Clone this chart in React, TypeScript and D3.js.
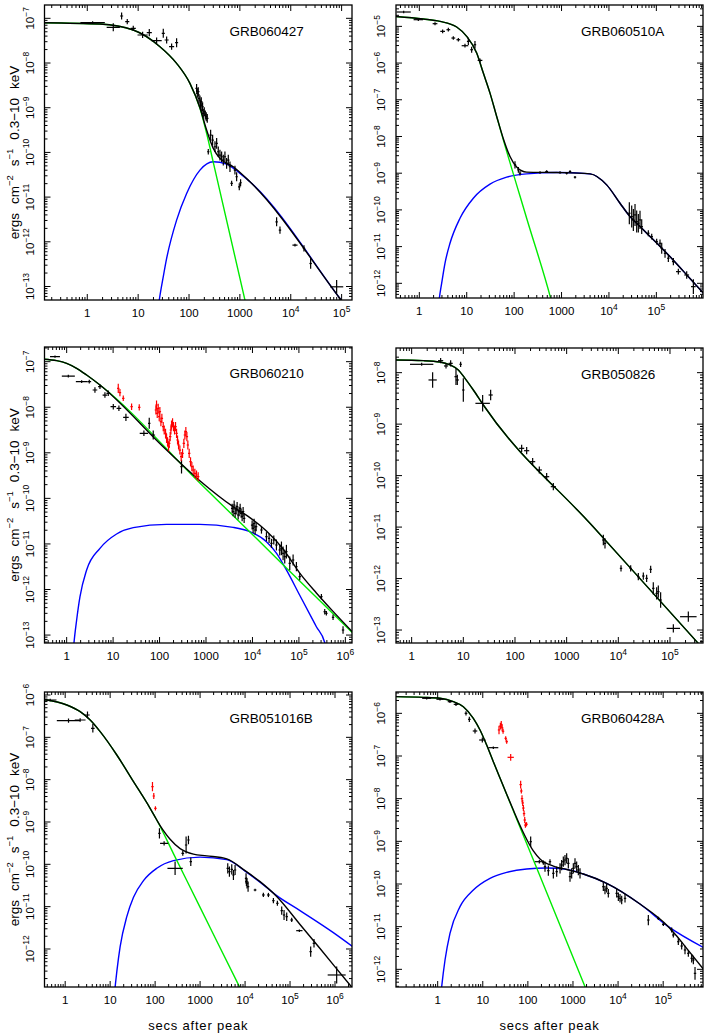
import React from 'react';
import * as d3 from 'd3';

// All values are log10(seconds after peak), log10(flux in erg cm^-2 s^-1)
type Pt = [number, number];
// observation: [log10 t, log10 flux, ±err in log10 t, ±err in log10 flux]
type Obs = [number, number, number, number];

// ---------------- GRB060427 ----------------
const g060427Total: Pt[] = [[-0.9,-7.097],[0.249,-7.127],[0.904,-7.261],[1.429,-7.634],[1.756,-8.007],[2.018,-8.455],[2.215,-9.0],[2.346,-9.5],[2.477,-9.91],[2.608,-10.134],[2.87,-10.321],[3.198,-10.657],[4.967,-13.269],[5.25,-13.7]];
const g060427Prompt: Pt[] = [[-0.9,-7.097],[0.249,-7.127],[0.904,-7.261],[1.429,-7.634],[1.756,-8.007],[2.018,-8.455],[2.215,-9.015],[2.346,-9.575],[2.477,-10.224],[3.1,-13.306],[3.2,-13.8]];
const g060427Afterglow: Pt[] = [[1.38,-13.6],[1.415,-13.306],[1.494,-12.78],[1.56,-12.373],[1.756,-11.515],[1.953,-10.918],[2.215,-10.396],[2.477,-10.209],[2.739,-10.261],[3.001,-10.47],[3.198,-10.657],[4.967,-13.269],[5.25,-13.7]];
const g060427Obs: Obs[] = [
  [0.105,-7.097,0.24,0.03],[0.511,-7.201,0.13,0.09],[0.675,-6.948,0.03,0.08],[0.786,-7.075,0.04,0.06],
  [0.904,-7.224,0.05,0.06],[1.088,-7.373,0.1,0.07],[1.219,-7.321,0.05,0.08],[1.363,-7.5,0.1,0.07],
  [1.494,-7.336,0.03,0.1],[1.56,-7.485,0.04,0.08],[1.658,-7.634,0.05,0.07],[1.756,-7.545,0.03,0.1],
  [2.149,-8.567,0.01,0.1],[2.163,-8.679,0.01,0.1],[2.182,-8.642,0.01,0.1],[2.195,-8.791,0.01,0.1],
  [2.215,-8.828,0.01,0.1],[2.228,-8.94,0.01,0.1],[2.241,-8.866,0.01,0.1],[2.254,-9.052,0.01,0.1],
  [2.267,-8.978,0.01,0.1],[2.28,-9.127,0.01,0.1],[2.3,-9.09,0.01,0.1],[2.32,-9.164,0.01,0.1],
  [2.339,-9.201,0.01,0.1],[2.359,-9.239,0.01,0.1],[2.379,-9.985,0.01,0.06],
  [2.425,-9.612,0.012,0.12],[2.464,-9.724,0.012,0.12],[2.51,-9.873,0.012,0.12],[2.543,-9.799,0.012,0.12],
  [2.575,-9.985,0.012,0.12],[2.608,-10.06,0.012,0.12],[2.641,-10.097,0.012,0.12],[2.674,-10.172,0.012,0.12],
  [2.706,-10.097,0.012,0.12],[2.739,-10.246,0.012,0.12],[2.772,-10.172,0.012,0.12],[2.805,-10.321,0.012,0.12],
  [2.838,-10.694,0.01,0.06],[2.903,-10.396,0.01,0.1],[2.936,-10.545,0.01,0.1],[2.988,-10.769,0.01,0.08],
  [3.014,-10.679,0.01,0.08],[3.722,-11.552,0.01,0.1],[3.788,-11.739,0.02,0.08],[4.083,-12.075,0.05,0.03],
  [4.26,-12.149,0.01,0.07],[4.391,-12.485,0.02,0.12],[4.902,-13.007,0.13,0.15]
];

// ---------------- GRB060510A ----------------
const g060510aTotal: Pt[] = [[-0.55,-4.727],[0.084,-4.8],[0.436,-4.864],[0.788,-5.018],[0.999,-5.273],[1.21,-5.727],[1.35,-6.273],[1.491,-6.818],[1.632,-7.455],[1.772,-8.06],[1.913,-8.545],[2.053,-8.83],[2.264,-8.97],[2.897,-8.982],[3.601,-9.018],[3.952,-9.318],[4.233,-9.818],[4.444,-10.182],[4.655,-10.455],[5.007,-10.9],[5.359,-11.37],[5.71,-11.87],[6.05,-12.35]];
const g060510aPrompt: Pt[] = [[-0.55,-4.727],[0.084,-4.8],[0.436,-4.864],[0.788,-5.018],[0.999,-5.273],[1.21,-5.727],[1.35,-6.273],[1.491,-6.818],[1.632,-7.455],[1.772,-8.091],[2.264,-10.227],[2.771,-12.409],[2.85,-12.8]];
const g060510aAfterglow: Pt[] = [[0.39,-12.8],[0.422,-12.409],[0.471,-12.0],[0.541,-11.455],[0.647,-10.909],[0.858,-10.227],[1.139,-9.682],[1.491,-9.3],[1.842,-9.109],[2.264,-9.018],[2.897,-8.982],[3.601,-9.018],[3.952,-9.318],[4.233,-9.818],[4.444,-10.182],[4.655,-10.455],[5.007,-10.9],[5.359,-11.37],[5.71,-11.87],[6.05,-12.35]];
const g060510aObs: Obs[] = [
  [-0.33,-4.609,0.15,0.005],[-0.021,-4.818,0.1,0.02],[0.331,-4.927,0.05,0.04],[0.492,-5.136,0.05,0.05],
  [0.612,-5.091,0.04,0.05],[0.717,-5.318,0.04,0.05],[0.823,-5.364,0.04,0.05],[0.963,-5.527,0.07,0.05],
  [1.034,-5.409,0.03,0.1],[1.104,-5.636,0.03,0.08],[1.174,-5.5,0.02,0.1],[1.28,-5.927,0.05,0.05],
  [2.018,-8.773,0.02,0.1],[2.089,-8.909,0.02,0.08],[2.124,-9.0,0.02,0.06],
  [2.546,-8.982,0.03,0.02],[2.686,-8.955,0.03,0.02],[2.968,-8.982,0.03,0.02],[3.108,-9.0,0.02,0.03],
  [3.179,-8.955,0.02,0.03],[3.284,-9.109,0.02,0.03],
  [4.43,-10.091,0.005,0.3],[4.48,-10.182,0.005,0.3],[4.515,-10.273,0.005,0.3],[4.55,-10.136,0.005,0.3],
  [4.585,-10.318,0.005,0.3],[4.62,-10.364,0.005,0.25],[4.655,-10.273,0.005,0.25],[4.691,-10.455,0.005,0.2],
  [4.831,-10.636,0.02,0.08],[4.902,-10.727,0.02,0.08],[5.007,-10.864,0.02,0.08],[5.077,-10.909,0.02,0.1],
  [5.113,-11.045,0.01,0.15],[5.183,-11.182,0.02,0.12],[5.253,-11.318,0.02,0.1],[5.359,-11.409,0.03,0.1],
  [5.464,-11.682,0.05,0.08],[5.64,-11.773,0.05,0.1],[5.781,-12.091,0.05,0.2]
];

// ---------------- GRB060210 ----------------
const g060210Total: Pt[] = [[-0.5,-6.945],[-0.215,-6.978],[0,-7.037],[0.215,-7.146],[0.43,-7.293],[0.717,-7.512],[2.151,-8.94],[2.867,-9.612],[3.584,-10.182],[3.907,-10.394],[4.301,-10.716],[4.659,-11.11],[5.018,-11.64],[5.376,-12.075],[5.735,-12.48],[6.2,-12.98]];
const g060210Prompt: Pt[] = [[-0.5,-6.945],[-0.215,-6.978],[0,-7.037],[0.215,-7.146],[0.43,-7.293],[0.717,-7.512],[2.867,-9.662],[4.659,-11.454],[6.2,-12.995]];
const g060210Afterglow: Pt[] = [[0.13,-13.5],[0.158,-13.167],[0.215,-12.669],[0.287,-12.157],[0.43,-11.572],[0.717,-11.097],[1.075,-10.782],[1.434,-10.643],[2.151,-10.57],[2.867,-10.57],[3.584,-10.636],[3.943,-10.731],[4.301,-10.95],[4.516,-11.2],[4.731,-11.57],[5.018,-12.126],[5.376,-12.817],[5.556,-13.164],[5.62,-13.5]];
const g060210Obs: Obs[] = [
  [-0.251,-6.89,0.107,0.005],[0.036,-7.315,0.14,0.03],[0.323,-7.439,0.125,0.03],[0.487,-7.439,0.04,0.04],
  [0.609,-7.622,0.05,0.06],[0.717,-7.549,0.04,0.05],[0.824,-7.732,0.05,0.06],[0.896,-7.695,0.04,0.06],
  [1.004,-7.988,0.06,0.06],[1.125,-8.024,0.05,0.06],[1.276,-8.222,0.06,0.08],[1.663,-8.573,0.09,0.06],
  [1.778,-8.353,0.01,0.12],[1.864,-8.609,0.04,0.1],[2.473,-9.304,0.01,0.15],
  [3.563,-10.219,0.01,0.1],[3.584,-10.292,0.01,0.1],[3.606,-10.146,0.01,0.1],[3.627,-10.328,0.01,0.1],
  [3.649,-10.255,0.01,0.1],[3.67,-10.182,0.01,0.1],[3.692,-10.365,0.01,0.1],[3.713,-10.292,0.01,0.1],
  [3.735,-10.219,0.01,0.1],[3.756,-10.328,0.01,0.1],[3.778,-10.402,0.01,0.1],[3.799,-10.292,0.01,0.1],
  [3.821,-10.438,0.01,0.1],
  [3.993,-10.585,0.01,0.1],[4.014,-10.658,0.01,0.1],[4.036,-10.548,0.01,0.1],[4.057,-10.694,0.01,0.1],
  [4.079,-10.621,0.01,0.1],[4.194,-10.694,0.01,0.08],[4.301,-10.841,0.01,0.1],[4.358,-10.877,0.01,0.1],
  [4.409,-10.987,0.01,0.1],[4.459,-10.914,0.01,0.1],[4.516,-11.023,0.01,0.12],[4.588,-11.133,0.01,0.12],
  [4.624,-11.097,0.01,0.15],[4.659,-11.206,0.01,0.15],[4.695,-11.279,0.01,0.15],[4.731,-11.17,0.01,0.15],
  [4.803,-11.426,0.01,0.15],[4.875,-11.353,0.01,0.12],[4.946,-11.499,0.01,0.1],[5.018,-11.718,0.02,0.08],
  [5.484,-12.157,0.02,0.06],[5.556,-12.487,0.02,0.06],[5.591,-12.523,0.02,0.05],[5.735,-12.611,0.02,0.06],
  [5.95,-12.889,0.01,0.08]
];
const g060210Flares: Obs[] = [
  [1.111,-7.585,0.02,0.1],[1.147,-7.68,0.02,0.08],[1.219,-7.805,0.02,0.06],[1.398,-7.988,0.015,0.07],[1.563,-8.002,0.01,0.07],
  [1.921,-8.061,0.008,0.1],[1.935,-7.951,0.008,0.1],[1.95,-8.134,0.008,0.1],[1.971,-8.024,0.008,0.1],
  [1.993,-8.207,0.008,0.1],[2.007,-8.097,0.008,0.1],[2.029,-8.317,0.008,0.1],[2.05,-8.244,0.008,0.1],
  [2.079,-8.426,0.008,0.1],[2.1,-8.5,0.008,0.1],[2.129,-8.573,0.008,0.1],[2.151,-8.683,0.008,0.1],
  [2.172,-8.756,0.008,0.1],[2.194,-8.865,0.008,0.1],[2.208,-8.792,0.008,0.1],[2.229,-8.646,0.008,0.1],
  [2.244,-8.5,0.008,0.1],[2.258,-8.39,0.008,0.1],[2.28,-8.339,0.008,0.1],[2.301,-8.426,0.008,0.1],
  [2.323,-8.5,0.008,0.1],[2.344,-8.426,0.008,0.1],[2.366,-8.573,0.008,0.1],[2.387,-8.719,0.008,0.1],
  [2.409,-8.829,0.008,0.1],[2.437,-8.939,0.008,0.1],[2.466,-9.085,0.008,0.1],[2.495,-9.012,0.008,0.1],
  [2.523,-8.792,0.008,0.1],[2.545,-8.609,0.008,0.1],[2.566,-8.536,0.008,0.1],[2.588,-8.646,0.008,0.1],
  [2.609,-8.829,0.008,0.1],[2.638,-9.012,0.008,0.1],[2.667,-9.195,0.008,0.1],[2.695,-9.304,0.008,0.1],
  [2.724,-9.377,0.008,0.1],[2.76,-9.451,0.008,0.1],[2.796,-9.487,0.008,0.1],[2.832,-9.524,0.008,0.1]
];

// ---------------- GRB050826 ----------------
const g050826Total: Pt[] = [[-0.35,-7.754],[0.226,-7.767],[0.548,-7.793],[0.742,-7.851],[0.903,-7.948],[1.032,-8.11],[1.194,-8.337],[1.387,-8.628],[3.5,-10.98],[5.548,-13.259],[5.7,-13.43]];
const g050826Obs: Obs[] = [
  [0.194,-7.838,0.226,0.03],[0.406,-8.142,0.08,0.15],[0.561,-7.767,0.05,0.05],[0.665,-7.87,0.04,0.05],
  [0.755,-7.819,0.04,0.06],[0.858,-8.078,0.03,0.16],[0.884,-8.142,0.03,0.1],[0.948,-7.838,0.02,0.05],
  [1.0,-8.337,0.02,0.23],[1.374,-8.596,0.14,0.16],[1.529,-8.434,0.04,0.1],
  [2.129,-9.47,0.05,0.07],[2.226,-9.516,0.05,0.07],[2.342,-9.729,0.05,0.07],[2.471,-9.891,0.05,0.07],
  [2.613,-10.021,0.05,0.07],[2.742,-10.215,0.05,0.07],
  [3.71,-11.251,0.02,0.1],[3.742,-11.316,0.02,0.1],[4.052,-11.802,0.02,0.06],[4.239,-11.802,0.02,0.06],
  [4.387,-11.964,0.02,0.07],[4.484,-11.951,0.02,0.07],[4.548,-11.996,0.02,0.07],[4.626,-11.821,0.01,0.07],
  [4.677,-12.19,0.01,0.12],[4.742,-12.288,0.01,0.12],[4.774,-12.255,0.01,0.12],[4.819,-12.417,0.01,0.15],
  [5.065,-12.968,0.13,0.08],[5.355,-12.741,0.16,0.1]
];

// ---------------- GRB051016B ----------------
const g051016bTotal: Pt[] = [[-0.5,-6.102],[0.037,-6.236],[0.333,-6.394],[0.556,-6.591],[0.778,-6.866],[1.148,-7.417],[1.519,-8.047],[1.889,-8.677],[2.037,-8.953],[2.185,-9.205],[2.333,-9.409],[2.556,-9.63],[2.852,-9.76],[3.148,-9.8],[3.593,-9.87],[4.0,-10.15],[4.333,-10.409],[4.704,-10.76],[5.222,-11.42],[5.667,-11.99],[6.333,-12.85],[6.45,-13.0]];
const g051016bPrompt: Pt[] = [[-0.5,-6.102],[0.037,-6.236],[0.333,-6.394],[0.556,-6.591],[0.778,-6.866],[1.148,-7.417],[1.519,-8.047],[1.889,-8.677],[2.037,-8.953],[2.407,-9.746],[3.0,-11.017],[3.874,-12.89],[3.95,-13.05]];
const g051016bAfterglow: Pt[] = [[1.09,-13.1],[1.111,-12.89],[1.148,-12.535],[1.222,-11.945],[1.37,-11.236],[1.519,-10.78],[1.741,-10.386],[2.037,-10.094],[2.407,-9.913],[3.0,-9.83],[3.593,-9.89],[4.0,-10.16],[4.333,-10.42],[4.704,-10.74],[5.222,-11.094],[5.963,-11.614],[6.45,-11.99]];
const g051016bObs: Obs[] = [
  [-0.333,-6.118,0.14,0.005],[0.074,-6.606,0.26,0.05],[0.333,-6.591,0.12,0.04],[0.496,-6.472,0.05,0.08],
  [0.615,-6.787,0.04,0.1],[2.096,-9.268,0.01,0.12],[2.2,-9.504,0.09,0.05],[2.444,-10.094,0.17,0.16],
  [2.615,-9.74,0.03,0.06],[2.689,-9.543,0.01,0.2],[2.741,-9.425,0.01,0.1],[2.793,-9.937,0.02,0.1],
  [3.615,-10.094,0.01,0.12],[3.652,-10.173,0.01,0.12],[3.704,-10.118,0.01,0.12],[3.741,-10.252,0.01,0.12],
  [3.778,-10.134,0.01,0.12],[4.022,-10.331,0.01,0.12],[4.03,-10.41,0.01,0.1],[4.044,-10.449,0.01,0.12],
  [4.067,-10.528,0.01,0.12],[4.222,-10.606,0.03,0.03],[4.407,-10.724,0.03,0.05],[4.519,-10.724,0.03,0.05],
  [4.63,-10.858,0.02,0.06],[4.719,-10.921,0.02,0.06],[4.815,-11.094,0.02,0.1],[4.867,-11.197,0.02,0.12],
  [4.926,-11.236,0.02,0.1],[5.037,-11.315,0.03,0.05],[5.207,-11.567,0.07,0.03],[5.459,-12.063,0.02,0.12],
  [5.533,-11.866,0.03,0.1],[6.037,-12.614,0.2,0.2]
];
const g051016bFlares: Obs[] = [[1.941,-8.165,0.005,0.11],[1.97,-8.386,0.01,0.07],[2.007,-8.677,0.01,0.05]];

// ---------------- GRB060428A ----------------
const g060428aTotal: Pt[] = [[-0.95,-5.609],[-0.318,-5.625],[0.052,-5.648],[0.347,-5.727],[0.569,-5.844],[0.791,-6.117],[0.939,-6.391],[1.086,-6.742],[1.234,-7.133],[1.382,-7.515],[1.53,-7.894],[1.678,-8.268],[1.826,-8.628],[1.936,-8.875],[2.121,-9.224],[2.269,-9.413],[2.565,-9.58],[2.86,-9.66],[3.23,-9.766],[3.747,-9.984],[4.486,-10.469],[5.115,-11.0],[5.3,-11.22],[5.521,-11.508],[5.95,-12.07]];
const g060428aPrompt: Pt[] = [[-0.95,-5.609],[-0.318,-5.625],[0.052,-5.648],[0.347,-5.727],[0.569,-5.844],[0.791,-6.117],[0.939,-6.391],[1.086,-6.742],[1.234,-7.133],[2.25,-9.768],[3.267,-12.406],[3.35,-12.62]];
const g060428aAfterglow: Pt[] = [[0.07,-12.6],[0.089,-12.406],[0.163,-11.781],[0.273,-11.156],[0.495,-10.531],[0.791,-10.141],[1.16,-9.867],[1.53,-9.727],[1.973,-9.648],[2.417,-9.625],[2.86,-9.656],[3.23,-9.766],[3.747,-9.984],[4.486,-10.469],[5.115,-11.0],[5.95,-11.52]];
const g060428aObs: Obs[] = [
  [-0.244,-5.648,0.1,0.02],[0.052,-5.67,0.08,0.02],[0.273,-5.727,0.05,0.03],[0.406,-5.789,0.05,0.04],
  [0.628,-6.0,0.03,0.05],[0.702,-6.141,0.03,0.06],[0.828,-6.414,0.05,0.06],[0.99,-6.625,0.07,0.06],
  [1.234,-6.805,0.11,0.02],[2.062,-9.008,0.01,0.12],[2.254,-9.477,0.1,0.04],[2.343,-9.5,0.03,0.05],
  [2.49,-9.477,0.02,0.06],
  [2.38,-9.594,0.01,0.12],[2.454,-9.688,0.01,0.12],[2.565,-9.75,0.01,0.12],[2.639,-9.711,0.01,0.12],
  [2.713,-9.633,0.01,0.12],[2.749,-9.555,0.01,0.12],[2.786,-9.477,0.01,0.12],[2.823,-9.438,0.01,0.12],
  [2.86,-9.398,0.01,0.12],[2.897,-9.516,0.01,0.12],[2.934,-9.828,0.01,0.12],[2.971,-9.75,0.01,0.12],
  [3.008,-9.633,0.01,0.12],[3.045,-9.516,0.01,0.12],[3.082,-9.594,0.01,0.12],[3.119,-9.672,0.01,0.12],
  [3.156,-9.75,0.01,0.12],
  [3.673,-10.063,0.01,0.1],[3.71,-10.141,0.01,0.1],[3.747,-10.102,0.01,0.1],[3.784,-10.219,0.01,0.1],
  [3.969,-10.219,0.01,0.1],[4.006,-10.297,0.01,0.1],[4.043,-10.336,0.01,0.1],[4.08,-10.375,0.01,0.1],
  [4.154,-10.336,0.01,0.1],
  [4.671,-10.844,0.01,0.12],[4.893,-10.805,0.03,0.04],[5.004,-10.945,0.03,0.04],[5.188,-11.078,0.01,0.06],
  [5.225,-11.195,0.02,0.06],[5.336,-11.352,0.02,0.08],[5.41,-11.453,0.02,0.08],[5.484,-11.547,0.02,0.1],
  [5.558,-11.625,0.02,0.08],[5.632,-11.742,0.01,0.1],[5.669,-11.781,0.01,0.1],[5.706,-12.094,0.01,0.15]
];
const g060428aFlares: Obs[] = [
  [1.36,-6.39,0.01,0.1],[1.39,-6.3,0.01,0.08],[1.41,-6.26,0.01,0.08],[1.43,-6.34,0.01,0.08],
  [1.45,-6.42,0.01,0.06],[1.508,-6.586,0.01,0.05],[1.53,-6.664,0.01,0.05],[1.619,-7.031,0.07,0.08],
  [1.84,-7.67,0.005,0.09],[1.855,-7.82,0.005,0.06],[1.87,-8.0,0.005,0.08],[1.885,-8.1,0.005,0.07],
  [1.9,-8.22,0.005,0.07],[1.915,-8.35,0.005,0.07],[1.93,-8.5,0.005,0.07],[1.945,-8.62,0.005,0.06],
  [1.97,-8.6,0.005,0.05]
];

interface PanelSpec {
  name: string;
  box: [number, number, number, number];
  xLog: [number, number];
  yLog: [number, number];
  total: Pt[];
  prompt: Pt[];
  afterglow: Pt[] | null;
  obs: Obs[];
  flares: Obs[];
  yTitle: boolean;
  xTitle: boolean;
}

const PANELS: PanelSpec[] = [
  { name: 'GRB060427', box: [44.5, 5, 352, 300], xLog: [-0.841, 5.204], yLog: [-13.302, -6.702],
    total: g060427Total, prompt: g060427Prompt, afterglow: g060427Afterglow, obs: g060427Obs, flares: [], yTitle: true, xTitle: false },
  { name: 'GRB060510A', box: [396, 5, 703, 298], xLog: [-0.492, 5.984], yLog: [-12.4, -4.418],
    total: g060510aTotal, prompt: g060510aPrompt, afterglow: g060510aAfterglow, obs: g060510aObs, flares: [], yTitle: false, xTitle: false },
  { name: 'GRB060210', box: [44.5, 347, 352, 643], xLog: [-0.477, 6.143], yLog: [-13.174, -6.678],
    total: g060210Total, prompt: g060210Prompt, afterglow: g060210Afterglow, obs: g060210Obs, flares: g060210Flares, yTitle: true, xTitle: false },
  { name: 'GRB050826', box: [396, 348, 703, 643], xLog: [-0.303, 5.639], yLog: [-13.252, -7.521],
    total: g050826Total, prompt: g050826Total, afterglow: null, obs: g050826Obs, flares: [], yTitle: false, xTitle: false },
  { name: 'GRB051016B', box: [44.5, 692, 352, 987], xLog: [-0.46, 6.378], yLog: [-12.898, -5.929],
    total: g051016bTotal, prompt: g051016bPrompt, afterglow: g051016bAfterglow, obs: g051016bObs, flares: g051016bFlares, yTitle: true, xTitle: true },
  { name: 'GRB060428A', box: [396, 692, 703, 987], xLog: [-0.924, 5.883], yLog: [-12.414, -5.5],
    total: g060428aTotal, prompt: g060428aPrompt, afterglow: g060428aAfterglow, obs: g060428aObs, flares: g060428aFlares, yTitle: false, xTitle: true },
];

const FONT = '"Liberation Sans", Arial, Helvetica, sans-serif';
const MINUS = '\u2212';

function Panel({ p, idx }: { p: PanelSpec; idx: number }) {
  const [x0, y0, x1, y1] = p.box;
  const x = d3.scaleLog().domain([10 ** p.xLog[0], 10 ** p.xLog[1]]).range([x0, x1]);
  const y = d3.scaleLog().domain([10 ** p.yLog[0], 10 ** p.yLog[1]]).range([y1, y0]);
  const line = d3.line<Pt>().x(d => x(10 ** d[0])).y(d => y(10 ** d[1])).curve(d3.curveMonotoneX);
  const isMajor = (v: number) => Math.abs(Math.log10(v) - Math.round(Math.log10(v))) < 1e-6;
  const xt = x.ticks();
  const yt = y.ticks();
  const clipId = `clip-${idx}`;

  const cross = (o: Obs, key: string) => {
    const cx = x(10 ** o[0]);
    const cy = y(10 ** o[1]);
    let xa = x(10 ** (o[0] - o[2]));
    let xb = x(10 ** (o[0] + o[2]));
    let ya = y(10 ** (o[1] - o[3]));
    let yb = y(10 ** (o[1] + o[3]));
    if (xb - xa < 2.4) { xa = cx - 1.2; xb = cx + 1.2; }
    if (ya - yb < 2.4) { ya = cy + 1.2; yb = cy - 1.2; }
    return (
      <g key={key}>
        <line x1={xa} x2={xb} y1={cy} y2={cy} />
        <line x1={cx} x2={cx} y1={ya} y2={yb} />
      </g>
    );
  };

  const cyMid = (y0 + y1) / 2;
  const cxMid = (x0 + x1) / 2;

  return (
    <g>
      <defs>
        <clipPath id={clipId}>
          <rect x={x0} y={y0} width={x1 - x0} height={y1 - y0} />
        </clipPath>
      </defs>
      <g clipPath={`url(#${clipId})`}>
        <g fill="none" strokeWidth={1.4} strokeLinejoin="round">
          {p.afterglow && <path d={line(p.afterglow) || ''} stroke="rgb(0,0,255)" />}
          <path d={line(p.prompt) || ''} stroke="rgb(0,235,0)" />
          <path d={line(p.total) || ''} stroke="#000" />
        </g>
        <g stroke="#000" strokeWidth={1.2}>
          {p.obs.map((o, i) => cross(o, `o${i}`))}
        </g>
        <g stroke="rgb(255,0,0)" strokeWidth={1.2}>
          {p.flares.map((o, i) => cross(o, `f${i}`))}
        </g>
      </g>
      <g stroke="#000" strokeWidth={1}>
        {xt.map((t, i) => {
          const px = x(t);
          if (px < x0 + 0.5 || px > x1 - 0.5) return null;
          const L = isMajor(t) ? 6 : 3;
          return (
            <g key={`xt${i}`}>
              <line x1={px} x2={px} y1={y1} y2={y1 - L} />
              <line x1={px} x2={px} y1={y0} y2={y0 + L} />
            </g>
          );
        })}
        {yt.map((t, i) => {
          const py = y(t);
          if (py < y0 + 0.5 || py > y1 - 0.5) return null;
          const L = isMajor(t) ? 6 : 3;
          return (
            <g key={`yt${i}`}>
              <line x1={x0} x2={x0 + L} y1={py} y2={py} />
              <line x1={x1} x2={x1 - L} y1={py} y2={py} />
            </g>
          );
        })}
      </g>
      <rect x={x0} y={y0} width={x1 - x0} height={y1 - y0} fill="none" stroke="#000" strokeWidth={1.3} />
      <g fontFamily={FONT} fontSize={11.5} fill="#000">
        {xt.filter(isMajor).map((t, i) => {
          const e = Math.round(Math.log10(t));
          const px = x(t);
          if (px < x0 - 1 || px > x1 + 1) return null;
          return (
            <text key={`xl${i}`} x={px} y={y1 + 17} textAnchor="middle">
              {e <= 3 ? String(10 ** e) : <>10<tspan dy={-5} fontSize={8.5}>{e}</tspan></>}
            </text>
          );
        })}
        {yt.filter(isMajor).map((t, i) => {
          const e = Math.round(Math.log10(t));
          const py = y(t);
          if (py < y0 - 1 || py > y1 + 1) return null;
          return (
            <text key={`yl${i}`} transform={`translate(${x0 - 11},${py}) rotate(-90)`} textAnchor="middle">
              10<tspan dy={-5} fontSize={8.5}>{MINUS}{Math.abs(e)}</tspan>
            </text>
          );
        })}
      </g>
      <text x={x0 + 185} y={y0 + 31} fontFamily={FONT} fontSize={13.5} fill="#000">{p.name}</text>
      {p.yTitle && (
        <text transform={`translate(18.5,${cyMid}) rotate(-90)`} textAnchor="middle" fontFamily={FONT} fontSize={13.5} fill="#000">
          <tspan>ergs</tspan>
          <tspan dx={9}>cm</tspan>
          <tspan dy={-5.5} fontSize={9.5}>{MINUS}2</tspan>
          <tspan dx={9} dy={5.5}>s</tspan>
          <tspan dy={-5.5} fontSize={9.5}>{MINUS}1</tspan>
          <tspan dx={9} dy={5.5}>0.3{MINUS}10</tspan>
          <tspan dx={9}>keV</tspan>
        </text>
      )}
      {p.xTitle && (
        <text x={cxMid} y={1030} textAnchor="middle" fontFamily={FONT} fontSize={13} letterSpacing={0.8} fill="#000">
          secs after peak
        </text>
      )}
    </g>
  );
}

export default function App() {
  return (
    <svg width={706} height={1035} viewBox="0 0 706 1035"
      style={{ position: 'absolute', left: 0, top: 0, background: '#fff' }}>
      <rect x={0} y={0} width={706} height={1035} fill="#fff" />
      {PANELS.map((p, i) => <Panel key={p.name} p={p} idx={i} />)}
    </svg>
  );
}
